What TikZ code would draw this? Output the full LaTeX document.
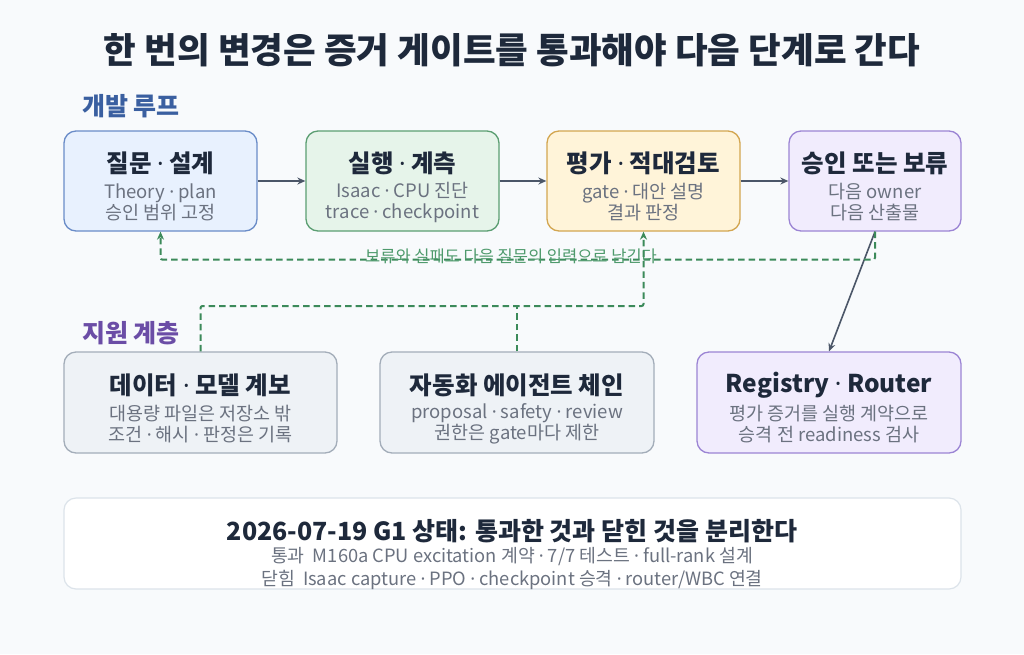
\documentclass[tikz,border=0pt]{standalone}
\usepackage{fontspec}
\setmainfont{Noto Sans CJK KR}
\newfontfamily\latf{Noto Sans}
\newcommand\mdot{{\latf ·}}
\usetikzlibrary{arrows.meta}
\definecolor{bgc}{HTML}{F8FAFC}
\definecolor{ink}{HTML}{1E293B}
\definecolor{subc}{HTML}{6B7280}
\definecolor{bluef}{HTML}{E8F1FE}
\definecolor{blued}{HTML}{6A8CC8}
\definecolor{greenf}{HTML}{E6F4EA}
\definecolor{greend}{HTML}{5B9E72}
\definecolor{yellf}{HTML}{FFF4D9}
\definecolor{yelld}{HTML}{D3A650}
\definecolor{purf}{HTML}{F1ECFD}
\definecolor{purd}{HTML}{9B84D4}
\definecolor{grayf}{HTML}{EEF2F6}
\definecolor{grayd}{HTML}{A3ADB9}
\definecolor{botd}{HTML}{DCE3EA}
\definecolor{arrc}{HTML}{4B5668}
\definecolor{dgreen}{HTML}{3C8A5A}
\definecolor{lgreen}{HTML}{4E9A6C}
\definecolor{lblue}{HTML}{3A5FA0}
\definecolor{lpur}{HTML}{6B4DA6}
\tikzset{
  box/.style={draw, line width=1.3pt, rounded corners=12pt, inner sep=0pt},
  btitle/.style={font=\fontsize{24.5}{28}\selectfont\bfseries, text=ink, inner sep=0pt},
  bsub/.style={font=\fontsize{18.5}{21}\selectfont, text=subc, align=center, inner sep=0pt},
  flow/.style={draw=arrc, line width=1.6pt, -{Stealth[length=8pt,width=7pt]}},
  fb/.style={draw=dgreen, line width=2pt, dash pattern=on 6.5pt off 4pt, rounded corners=2pt, -{Stealth[length=8pt,width=7pt]}},
  fbl/.style={draw=dgreen, line width=2pt, dash pattern=on 6.5pt off 4pt},
  sect/.style={font=\fontsize{25}{30}\selectfont\bfseries, anchor=west, inner sep=0pt},
}
\begin{document}
\begin{tikzpicture}[x=1pt,y=-1pt]
\fill[bgc] (0,0) rectangle (1024,654);
\useasboundingbox (0,0) rectangle (1024,654);

\node[font=\fontsize{35.5}{40}\selectfont\bfseries, text=ink, inner sep=0pt] (title) at (512,50) {한 번의 변경은 증거 게이트를 통과해야 다음 단계로 간다};
\node[sect, text=lblue] (loop) at (82,106) {개발 루프};
\node[sect, text=lpur] (supp) at (82,333) {지원 계층};

% top row
\node[box, fill=bluef, draw=blued, minimum width=193pt, minimum height=100pt] (A) at (160.5,181) {};
\node[box, fill=greenf, draw=greend, minimum width=193pt, minimum height=100pt] (B) at (402.5,181) {};
\node[box, fill=yellf, draw=yelld, minimum width=193pt, minimum height=100pt] (C) at (643.5,181) {};
\node[box, fill=purf, draw=purd, minimum width=172pt, minimum height=100pt] (D) at (875,181) {};

\node[btitle] (At) at (160.5,163) {질문 \mdot{} 설계};
\node[bsub] (As) at (160.5,202) {Theory \mdot{} plan\\승인 범위 고정};
\node[btitle] (Bt) at (402.5,163) {실행 \mdot{} 계측};
\node[bsub] (Bs) at (402.5,202) {Isaac \mdot{} CPU 진단\\trace \mdot{} checkpoint};
\node[btitle] (Ct) at (643.5,163) {평가 \mdot{} 적대검토};
\node[bsub] (Cs) at (643.5,202) {gate \mdot{} 대안 설명\\결과 판정};
\node[btitle] (Dt) at (875,163) {승인 또는 보류};
\node[bsub] (Ds) at (875,202) {다음 owner\\다음 산출물};

% support row
\node[box, fill=grayf, draw=grayd, minimum width=273pt, minimum height=101pt] (E) at (200.5,402.5) {};
\node[box, fill=grayf, draw=grayd, minimum width=274pt, minimum height=101pt] (F) at (517,402.5) {};
\node[box, fill=purf, draw=purd, minimum width=264pt, minimum height=101pt] (G) at (829,402.5) {};

\node[btitle] (Et) at (200.5,385) {데이터 \mdot{} 모델 계보};
\node[bsub] (Es) at (200.5,424) {대용량 파일은 저장소 밖\\조건 \mdot{} 해시 \mdot{} 판정은 기록};
\node[btitle] (Ft) at (517,385) {자동화 에이전트 체인};
\node[bsub] (Fs) at (517,424) {proposal \mdot{} safety \mdot{} review\\권한은 gate마다 제한};
\node[btitle] (Gt) at (829,385) {Registry \mdot{} Router};
\node[bsub] (Gs) at (829,424) {평가 증거를 실행 계약으로\\승격 전 readiness 검사};

% bottom status box
\node[box, fill=white, draw=botd, line width=1.2pt, minimum width=897pt, minimum height=91pt] (H) at (512.5,543.5) {};
\node[font=\fontsize{25}{29}\selectfont\bfseries, text=ink, inner sep=0pt] (Ht) at (512,531) {2026-07-19 G1 상태: 통과한 것과 닫힌 것을 분리한다};
\node[font=\fontsize{18.3}{21}\selectfont, text=subc, inner sep=0pt] (H1) at (512,557) {통과\ \ M160a\ CPU\ excitation 계약 \mdot{} 7/7 테스트 \mdot{} full-rank 설계};
\node[font=\fontsize{18.3}{21}\selectfont, text=subc, inner sep=0pt] (H2) at (512,580) {닫힘\ \ Isaac capture \mdot{} PPO \mdot{} checkpoint 승격 \mdot{} router/WBC 연결};

% flow arrows
\draw[flow] (A.east) -- (B.west);
\draw[flow] (B.east) -- (C.west);
\draw[flow] (C.east) -- (D.west);
\draw[flow] (D.south) -- (G.north);

% feedback loop
\coordinate (fbR) at ([yshift=-28pt]D.south);
\draw[fb] (D.south) -- (fbR) -| (A.south);
\node[font=\fontsize{16.5}{19}\selectfont, text=lgreen, inner sep=0pt] (fbl) at (511,256) {보류와 실패도 다음 질문의 입력으로 남긴다};

% support links
\coordinate (j) at (F.north |- 0,306);
\draw[fb] (E.north) |- (j) -| (C.south);
\draw[fbl] (F.north) -- (j);
\end{tikzpicture}
\end{document}
